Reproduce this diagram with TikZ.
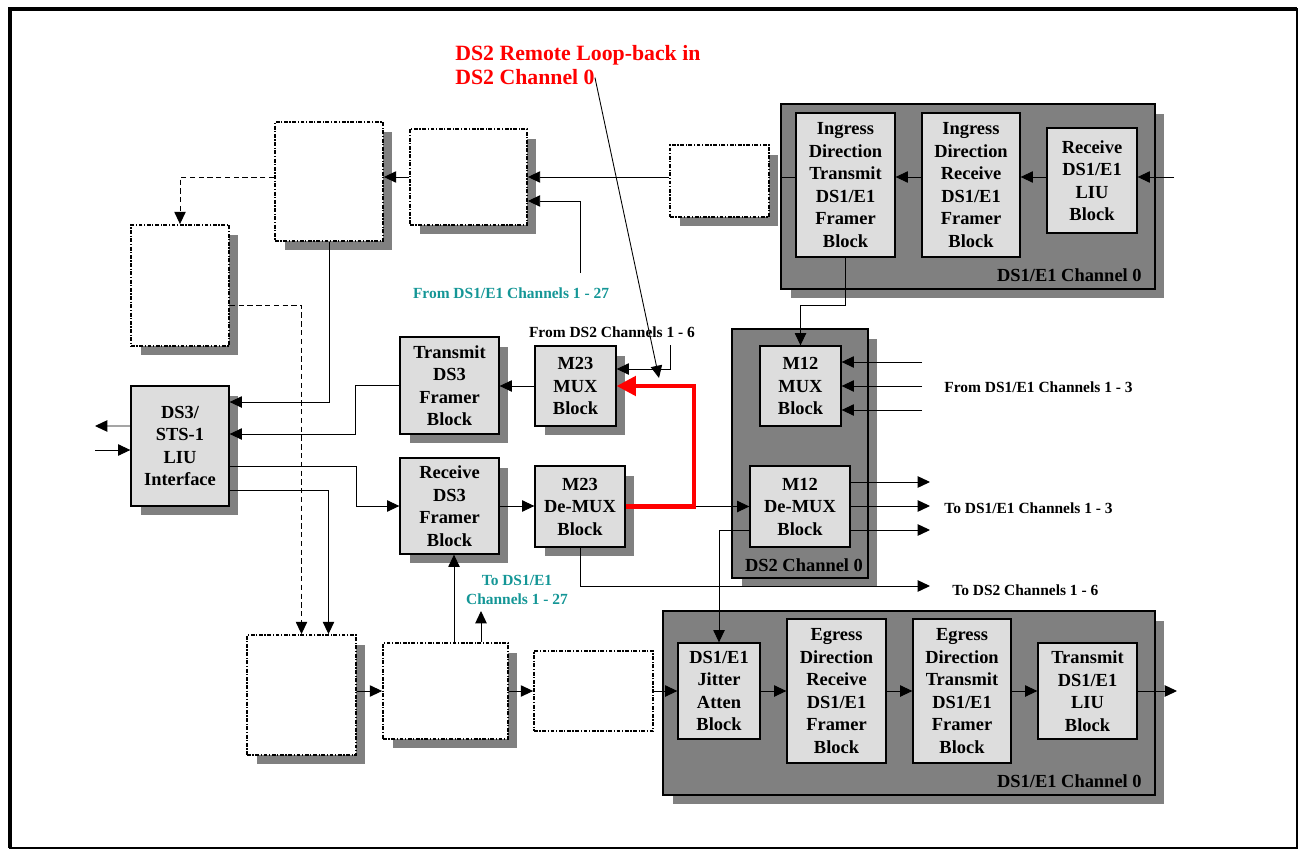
\documentclass[tikz,border=0pt]{standalone}
\usepackage{fontspec}
\setmainfont{Liberation Serif}
\usepackage{tikz}
\usetikzlibrary{arrows.meta, positioning, shadows}
\definecolor{boxgray}{RGB}{221,221,221}
\definecolor{shadegray}{RGB}{128,128,128}
\definecolor{chanteal}{RGB}{20,150,150}
\definecolor{loopred}{RGB}{255,0,0}

\begin{document}
\begin{tikzpicture}[x=0.02cm, y=-0.02cm,
  shd/.style={drop shadow={shadow xshift=0.19cm, shadow yshift=-0.19cm, fill=shadegray, opacity=1}},
  blk/.style={draw, line width=0.75pt, fill=boxgray, inner sep=0pt, align=center, font=\fontsize{10.5}{12.8}\selectfont\bfseries},
  blks/.style={blk, shd},
  hole/.style={draw, line width=1.05pt, dash pattern=on 2.2pt off 0.9pt on 0.7pt off 0.9pt, fill=white, inner sep=0pt},
  holes/.style={hole, shd},
  chan/.style={draw, line width=0.75pt, fill=shadegray, inner sep=0pt, shd},
  arr/.style={-{Triangle[length=7pt, width=6.5pt]}, line width=0.55pt},
  dsh/.style={arr, dash pattern=on 3pt off 2pt},
  lbl/.style={font=\fontsize{8.8}{10.8}\selectfont\bfseries, inner sep=0pt},
  chlbl/.style={font=\fontsize{10.5}{12.8}\selectfont\bfseries, inner sep=0pt}]
  \useasboundingbox (0,0) rectangle (1301,851);
  \draw[line width=0.6pt] (10,9) rectangle (1297,848);
  \draw[line width=2.8pt] (10,848) -- (10,9) -- (1297,9);

  \node[chan, minimum width=7.48cm, minimum height=3.70cm] (ct) at (968,196.5) {};
  \node[chan, minimum width=2.72cm, minimum height=4.98cm] (ds2) at (800,453.5) {};
  \node[chan, minimum width=9.84cm, minimum height=3.68cm] (cb) at (909,703) {};

  \node[blk, minimum width=1.98cm, minimum height=2.88cm] (ingT) at (845.5,185) {Ingress\\Direction\\Transmit\\DS1/E1\\Framer\\Block};
  \node[blk, minimum width=1.96cm, minimum height=2.88cm] (ingR) at (971,185) {Ingress\\Direction\\Receive\\DS1/E1\\Framer\\Block};
  \node[blk, minimum width=1.80cm, minimum height=2.10cm] (rxLIU) at (1092,180.5) {Receive\\DS1/E1\\LIU\\Block};
  \node[holes, minimum width=1.98cm, minimum height=1.44cm] (boxC) at (719.5,181) {};
  \node[holes, minimum width=2.34cm, minimum height=1.92cm] (boxB2) at (468.5,177) {};
  \node[holes, minimum width=2.16cm, minimum height=2.38cm] (boxB1) at (329,181.5) {};
  \node[holes, minimum width=1.96cm, minimum height=2.42cm] (boxA) at (180,285.5) {};
  \node[blks, minimum width=1.96cm, minimum height=2.40cm] (liu) at (180,446) {DS3/\\STS-1\\LIU\\Interface};
  \node[blks, minimum width=1.98cm, minimum height=1.94cm] (txDS3) at (449.5,385.5) {Transmit\\DS3\\Framer\\Block};
  \node[blks, minimum width=1.98cm, minimum height=1.92cm] (rxDS3) at (449.5,506) {Receive\\DS3\\Framer\\Block};
  \node[blks, minimum width=1.62cm, minimum height=1.60cm] (m23mux) at (575.5,386) {M23\\MUX\\Block};
  \node[blks, minimum width=1.80cm, minimum height=1.62cm] (m23dmx) at (580,506.5) {M23\\De-MUX\\Block};
  \node[blk, minimum width=1.62cm, minimum height=1.60cm] (m12mux) at (800.5,386) {M12\\MUX\\Block};
  \node[blk, minimum width=2.00cm, minimum height=1.62cm] (m12dmx) at (800,506.5) {M12\\De-MUX\\Block};
  \node[holes, minimum width=2.18cm, minimum height=2.40cm] (boxD) at (301.5,695) {};
  \node[holes, minimum width=2.50cm, minimum height=1.92cm] (boxE) at (445.5,691) {};
  \node[hole, minimum width=2.38cm, minimum height=1.60cm] (boxF) at (593.5,691) {};
  \node[blk, minimum width=1.64cm, minimum height=1.92cm] (jit) at (719,691) {DS1/E1\\Jitter\\Atten\\Block};
  \node[blk, minimum width=1.98cm, minimum height=2.88cm] (egR) at (836.5,691) {Egress\\Direction\\Receive\\DS1/E1\\Framer\\Block};
  \node[blk, minimum width=1.96cm, minimum height=2.88cm] (egT) at (962,691) {Egress\\Direction\\Transmit\\DS1/E1\\Framer\\Block};
  \node[blk, minimum width=1.98cm, minimum height=1.92cm] (txLIU) at (1087.5,691) {Transmit\\DS1/E1\\LIU\\Block};

  \node[chlbl, anchor=east] (ctlbl) at (1142,275) {DS1/E1 Channel 0};
  \node[chlbl] (ds2lbl) at (804,565) {DS2 Channel 0};
  \node[chlbl, anchor=east] (cblbl) at (1142,781) {DS1/E1 Channel 0};

  \coordinate (inR) at (1174,177);
  \coordinate (fr27) at (580,273);
  \coordinate (fds2) at (670,345);
  \coordinate (lo) at (95,426);
  \coordinate (li) at (95,450);
  \coordinate (to27) at (481,611);
  \coordinate (tods2) at (930,586);
  \coordinate (lout) at (1177,691);
  \coordinate (lbk) at (659,378);

  \draw[arr] (inR) -- (rxLIU.east |- inR);
  \draw[arr] (rxLIU.west |- inR) -- (ingR.east |- inR);
  \draw[arr] (ingR.west |- inR) -- (ingT.east |- inR);
  \draw[line width=0.55pt] (ingT.west |- inR) -- (ct.west |- inR);
  \draw[arr] (boxC.west |- inR) -- (boxB2.east |- inR);
  \draw[arr] (fr27) |- ([yshift=-0.48cm]boxB2.east);
  \draw[arr] (boxB2.west) -- (boxB1.east |- boxB2.west);
  \draw[dsh] (boxB1.west |- boxB2.west) -| (boxA.north);
  \draw[dsh] ([yshift=-0.39cm]boxA.east) -| (boxD.north);
  \draw[arr] (boxB1.south) |- ([yshift=0.88cm]liu.east);
  \draw[arr] (txDS3.west) -- ++(-44,0) |- ([yshift=0.24cm]liu.east);
  \draw[arr] ([yshift=-0.40cm]liu.east) -- ++(127,0) |- (rxDS3.west);
  \draw[arr] ([yshift=-0.88cm]liu.east) -| ([xshift=0.54cm]boxD.north);
  \draw[arr] ([yshift=0.4cm]liu.west) -- (lo);
  \draw[arr] (li) -- (liu.west |- li);
  \draw[arr] (m23mux.west) -- (txDS3.east |- m23mux.west);
  \draw[arr] (rxDS3.east) -- (m23dmx.west |- rxDS3.east);
  \draw[arr] (fds2) |- ([yshift=0.34cm]m23mux.east);
  \draw[arr] (m23dmx.east) -- (m12dmx.west |- m23dmx.east);
  \draw[arr] (m23dmx.south) |- (tods2);
  \draw[arr] (ingT.south) -- ++(0,48) -| (m12mux.north);
  \foreach \yy [count=\i] in {362,386,410} {
    \coordinate (mi\i) at (922,\yy);
    \draw[arr] (mi\i) -- (m12mux.east |- mi\i);
  }
  \foreach \yy [count=\i] in {482,506,530} {
    \coordinate (mo\i) at (930,\yy);
    \draw[arr] (m12dmx.east |- mo\i) -- (mo\i);
  }
  \draw[arr] ([yshift=-0.47cm]m12dmx.west) -| (jit.north);
  \draw[arr] ([xshift=0.17cm]boxE.north) -- ([xshift=0.17cm]boxE.north |- rxDS3.south);
  \draw[arr] (boxE.north -| to27) -- (to27);
  \draw[arr] (boxD.east |- boxE.west) -- (boxE.west);
  \draw[arr] (boxE.east) -- (boxF.west);
  \draw[arr] (boxF.east) -- (jit.west);
  \draw[arr] (jit.east) -- (egR.west);
  \draw[arr] (egR.east) -- (egT.west);
  \draw[arr] (egT.east) -- (txLIU.west);
  \draw[arr] (txLIU.east) -- (lout);
  \draw[loopred, line width=2.3pt, -{Triangle[length=11pt, width=11pt]}] (m23dmx.east) -- ++(68,0) |- (m23mux.east);

  \node[lbl, text=chanteal] (lfr27) at (511,293) {From DS1/E1 Channels 1 - 27};
  \node[lbl] (lfds2) at (612,332) {From DS2 Channels 1 - 6};
  \node[lbl, anchor=west] (lfr3) at (944,387) {From DS1/E1 Channels 1 - 3};
  \node[lbl, anchor=west] (lto3) at (944,508) {To DS1/E1 Channels 1 - 3};
  \node[lbl, anchor=west] (ltods2) at (952,590) {To DS2 Channels 1 - 6};
  \node[lbl, text=chanteal, align=center] (lto27) at (517,590) {To DS1/E1\\Channels 1 - 27};
  \node[anchor=base west, inner sep=0pt, text=loopred, font=\fontsize{12.4}{15}\selectfont\bfseries] (note1) at (455,61) {DS2 Remote Loop-back in};
  \node[anchor=base west, inner sep=0pt, text=loopred, font=\fontsize{12.4}{15}\selectfont\bfseries] (note2) at (455,85) {DS2 Channel 0};
  \draw[arr, line width=0.5pt] (note2.east) -- (lbk);
\end{tikzpicture}
\end{document}
